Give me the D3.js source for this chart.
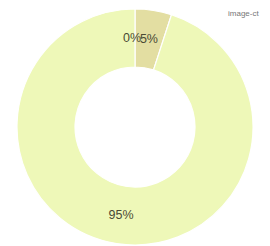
<!DOCTYPE html>
<html><head><meta charset="utf-8">
<script src="https://cdn.jsdelivr.net/npm/d3@7"></script>
<style>html,body{margin:0;padding:0;background:#fff;}svg{display:block;}</style>
</head><body>
<svg id="c" width="270" height="246"></svg>
<script>
const categories = ["A", "B", "C"];
const values = [0, 5, 95];
const labels = ["0%", "5%", "95%"];
const colors = ["#eef8b8", "#e3dea2", "#eef8b8"];

const svg = d3.select("#c");
const cx = 135, cy = 127, outerR = 118, innerR = 60;
const g = svg.append("g").attr("transform", `translate(${cx},${cy})`);
const pie = d3.pie().sort(null).value(d => d)(values);
const arc = d3.arc().innerRadius(innerR).outerRadius(outerR);
const labelArc = d3.arc().innerRadius(89).outerRadius(89);

g.selectAll("path.s").data(pie).join("path")
  .attr("class", "s")
  .attr("d", arc)
  .attr("fill", (d, i) => colors[i])
  .attr("stroke", "#fff")
  .attr("stroke-width", 1.2);

g.selectAll("text.l").data(pie).join("text")
  .attr("class", "l")
  .attr("transform", (d, i) => {
    const c = labelArc.centroid(d);
    return `translate(${c[0] + (i === 0 ? -3 : 0)},${c[1] + 4})`;
  })
  .attr("text-anchor", "middle")
  .attr("font-family", "Liberation Sans, Arial, sans-serif")
  .attr("font-size", 12.5)
  .attr("fill", "#4a4a35")
  .text((d, i) => labels[i]);

svg.append("text")
  .attr("x", 228).attr("y", 16)
  .attr("font-family", "Liberation Sans, Arial, sans-serif")
  .attr("font-size", 8)
  .attr("fill", "#777777")
  .text("image-ct");
</script>
</body></html>
